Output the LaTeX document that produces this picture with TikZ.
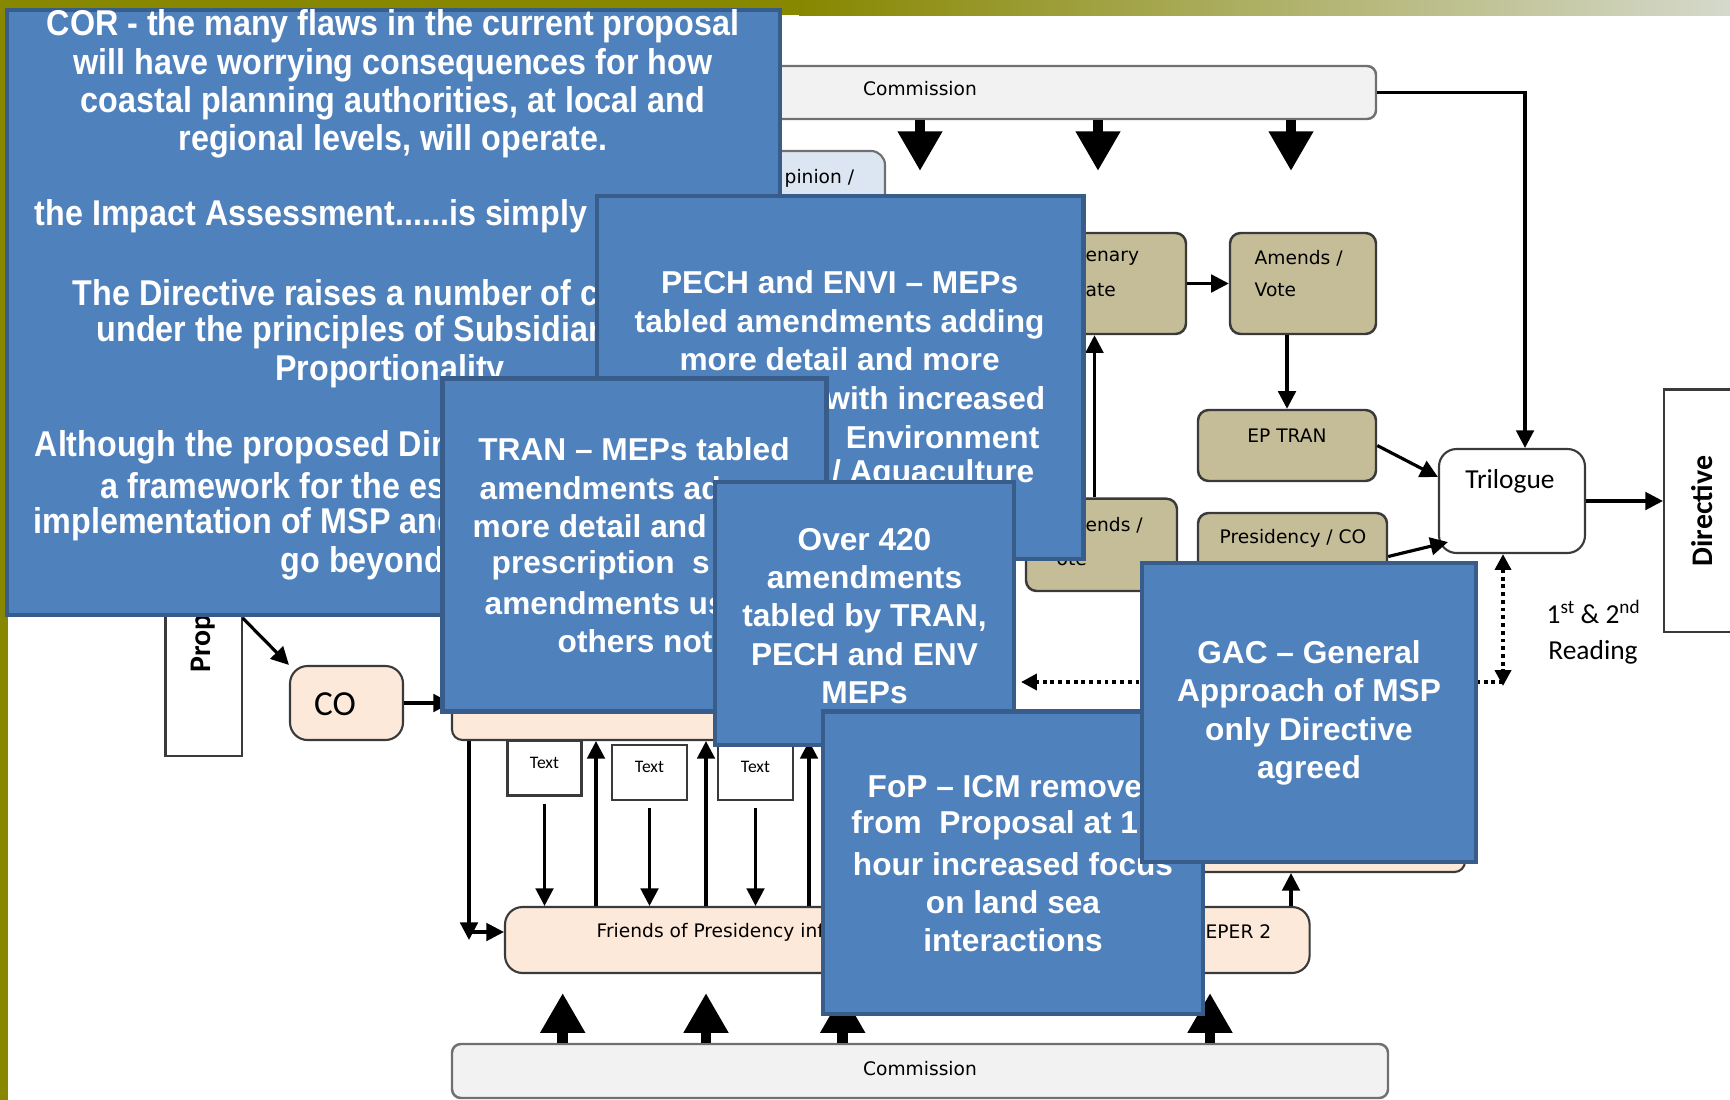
\documentclass[tikz,border=0pt]{standalone}
\usepackage{fontspec}
\setmainfont{Liberation Sans}
\newfontfamily\corfont[FakeStretch=0.9]{Liberation Sans}
\newfontfamily\labfont{DejaVu Sans}
\newfontfamily\calfont{Carlito}
\usetikzlibrary{arrows.meta, fit, positioning}

\definecolor{noteblue}{HTML}{4F81BD}
\definecolor{noteedge}{HTML}{385D8A}
\definecolor{tanfill}{HTML}{C4BD97}
\definecolor{peachfill}{HTML}{FDE9D9}
\definecolor{barfill}{HTML}{F2F2F2}
\definecolor{baredge}{HTML}{707070}
\definecolor{opinfill}{HTML}{DCE6F2}
\definecolor{boxedge}{HTML}{3A3A3A}
\definecolor{barolive}{HTML}{878700}
\definecolor{barlight}{HTML}{D5D9CC}

\tikzset{
  note/.style={draw=noteedge, fill=noteblue, line width=1.2pt, inner sep=0pt},
  notetext/.style={text=white, font=\bfseries\fontsize{9}{10.9}\selectfont, inner sep=0pt, align=center},
  cortext/.style={text=white, font=\corfont\bfseries\fontsize{10.2}{10.9}\selectfont, inner sep=0pt, align=center},
  tanbox/.style={draw=boxedge, fill=tanfill, line width=0.7pt, rounded corners=3pt, inner sep=0pt},
  peachbox/.style={draw=boxedge, fill=peachfill, line width=0.6pt, rounded corners=3pt, inner sep=0pt},
  barbox/.style={draw=baredge, fill=barfill, line width=0.7pt, rounded corners=2.5pt, inner sep=0pt},
  opinbox/.style={draw=baredge, fill=opinfill, line width=0.6pt, rounded corners=4pt, inner sep=0pt},
  plainbox/.style={draw=boxedge, fill=white, line width=0.6pt, inner sep=0pt},
  lbl/.style={font=\labfont\fontsize{5.3}{6}\selectfont, inner sep=0pt},
  calbl/.style={font=\calfont\fontsize{7.8}{9}\selectfont, inner sep=0pt},
  conn/.style={line width=0.9pt, -{Triangle[length=5pt,width=5pt]}},
  bigarrow/.style={line width=3.1pt, -{Triangle[length=11.3pt,width=12pt]}},
  dotline/.style={line width=1.1pt, dash pattern=on 1.1pt off 1.1pt},
}

\begin{document}
\begin{tikzpicture}[x=0.01cm, y=-0.01cm]
\useasboundingbox (0,0) rectangle (1730,1100);
\fill[white] (0,0) rectangle (1730,1100);

% slide frame
\fill[barolive] (0,0) rectangle (800,15);
\shade[left color=barolive, right color=barlight] (799,0) rectangle (1730,15);
\fill[barolive] (0,0) rectangle (8,1100);

% Parliament side
\node[barbox, fit={(470,66) (1376,119)}] (comtop) {};
\node[lbl] (comtoptxt) at (920,89) {Commission};
\foreach \ax [count=\i] in {920,1098,1291} {
  \coordinate (down\i) at (\ax,171);
  \draw[bigarrow] (comtop.south -| down\i) -- (down\i);
}
\node[opinbox, fit={(700,151) (885,240)}] (opinion) {};
\node[lbl, anchor=west] (opiniontxt) at (784,178) {pinion /};

\node[tanbox, fit={(1040,233) (1186,334)}] (plenary) {};
\node[lbl, anchor=west] (plenarytxt1) at (1085,258) {enary};
\node[lbl, anchor=west] (plenarytxt2) at (1085,290) {ate};
\node[tanbox, fit={(1230,233) (1376,334)}] (amends1) {};
\node[lbl, anchor=west] (amends1txt1) at (1254,258) {Amends /};
\node[lbl, anchor=west] (amends1txt2) at (1254,290) {Vote};
\node[tanbox, fit={(1198,410) (1376,481)}] (eptran) {};
\node[lbl] (eptrantxt) at (1287,436) {EP TRAN};
\node[tanbox, fit={(1026,498.7) (1177,591)}] (amends2) {};
\node[lbl, anchor=west] (amends2txt1) at (1085,525) {ends /};
\node[lbl, anchor=west] (amends2txt2) at (1056,559) {ote};
\node[tanbox, fit={(1198,513) (1387,600)}] (presco) {};
\node[lbl] (prescotxt) at (1293,538) {Presidency / CO};

\draw[conn] (plenary.east) -- (amends1.west);
\draw[conn] (amends1.south -| eptran.north) -- (eptran.north);
\coordinate (riser) at (1094.5,400);
\draw[conn] (amends2.north -| riser) -- (plenary.south -| riser);

% Trilogue and result
\node[plainbox, rounded corners=5pt, fit={(1439,449) (1585,553)}] (trilogue) {};
\node[calbl] (trilogtxt) at (1510,481) {Trilogue};
\node[plainbox, fit={(1664,389.5) (1760,632)}] (directive) {};
\node[font=\calfont\bfseries\fontsize{8.5}{9}\selectfont, rotate=90, inner sep=0pt] (directivetxt) at (1702,511) {Directive};
\node[calbl] (readtxt1) at (1594,612) {1\textsuperscript{st}\,\& 2\textsuperscript{nd}};
\node[calbl] (readtxt2) at (1593,652) {Reading};

\draw[conn] (comtop.east) -| ([xshift=0.13cm]trilogue.north);
\draw[conn] (eptran.east) -- ([yshift=0.24cm]trilogue.west);
\draw[conn] (presco.east) -- ([xshift=0.1cm,yshift=0.12cm]trilogue.south west);
\draw[conn] (trilogue.east) -- (trilogue.east -| directive.west);
\coordinate (dotbottom) at (1503,686);
\coordinate (dotleft) at (1021,682);
\draw[dotline, {Triangle[length=4.5pt,width=4.5pt]}-{Triangle[length=4.5pt,width=4.5pt]}] (trilogue.south -| dotbottom) -- (dotbottom);
\draw[dotline, -{Triangle[length=4.5pt,width=4.5pt]}] (dotbottom |- dotleft) -- (dotleft);

% Council side
\node[plainbox, fit={(165.5,400) (241.6,756)}] (proposal) {};
\node[font=\calfont\bfseries\fontsize{8.5}{9}\selectfont, rotate=90, anchor=west, inner sep=0pt] (proptxt) at (203,673) {Prop};
\node[peachbox, rounded corners=5pt, fit={(290,666) (403,740)}] (co) {};
\node[font=\calfont\fontsize{10}{12}\selectfont, inner sep=0pt] (cotxt) at (335,704) {CO};
\coordinate (propout) at (241.6,618);
\draw[conn] (proposal.east |- propout) -- (co.north west);
\node[peachbox, fit={(452,600) (830,740)}] (committees) {};
\draw[conn] (co.east) -- (co.east -| committees.west);

\node[peachbox, rounded corners=5pt, fit={(505,907) (1150,973)}] (friends) {};
\node[lbl, anchor=west] (friendstxt) at (596,932) {Friends of Presidency inf};
\node[peachbox, rounded corners=5pt, fit={(1150,907) (1309.6,973)}] (coreper) {};
\node[lbl, anchor=west] (corepertxt) at (1205,932) {EPER 2};
\node[peachbox, fit={(1150,700) (1465,872)}] (council) {};
\coordinate (upcol) at (1291,800);
\draw[conn] (coreper.north -| upcol) -- (council.south -| upcol);

\node[plainbox, fit={(507.5,741) (581.5,795.5)}, font=\calfont\fontsize{5}{6}\selectfont] (text1) {Text};
\node[plainbox, fit={(612,745) (687,800)}, font=\calfont\fontsize{5}{6}\selectfont] (text2) {Text};
\node[plainbox, fit={(718,745) (793,800)}, font=\calfont\fontsize{5}{6}\selectfont] (text3) {Text};
\draw[conn, shorten <=2pt] (text1.south) -- (text1.south |- friends.north);
\draw[conn, shorten <=2pt] (text2.south) -- (text2.south |- friends.north);
\draw[conn, shorten <=2pt] (text3.south) -- (text3.south |- friends.north);
\foreach \ux [count=\k] in {596,706,809} {
  \coordinate (riseup\k) at (\ux,800);
  \draw[conn] (friends.north -| riseup\k) -- (committees.south -| riseup\k);
}
\coordinate (loopdown) at (469,940);
\coordinate (loopturn) at (469,932);
\draw[conn] (committees.south -| loopdown) -- (loopdown);
\draw[conn] (loopturn) -- (loopturn -| friends.west);

\node[barbox, fit={(452,1044) (1388,1098)}] (combot) {};
\node[lbl] (combottxt) at (920,1069) {Commission};
\foreach \ax [count=\i] in {562.7,706,842.7,1210} {
  \coordinate (up\i) at (\ax,993);
  \draw[bigarrow] (combot.north -| up\i) -- (up\i);
}

% comment boxes laid over the chart
\node[note, fit={(7,10) (780,615)}] (cor) {};
\node[cortext] (cortxt1) at (393,84) {COR - the many flaws in the current proposal\\will have worrying consequences for how\\coastal planning authorities, at local and\\regional levels, will operate.};
\node[cortext, anchor=west] (cortxt2) at (34,216) {the Impact Assessment......is simply i};
\node[cortext, anchor=west] (cortxt3) at (72,293) {The Directive raises a number of c};
\node[cortext, anchor=west] (cortxt4) at (96,332) {under the principles of Subsidiari};
\node[cortext] (cortxt5) at (390,371) {Proportionality};
\node[cortext, anchor=west] (cortxt6) at (34,447) {Although the proposed Dir};
\node[cortext, anchor=west] (cortxt7) at (100,486) {a framework for the es};
\node[cortext, anchor=west] (cortxt8) at (33,524) {implementation of MSP and};
\node[cortext, anchor=west] (cortxt9) at (280,563) {go beyond};

\node[note, fit={(597,196) (1083.5,559)}] (pech) {};
\node[notetext] (pechtxt1) at (839.6,321) {PECH and ENVI – MEPs\\tabled amendments adding\\more detail and more};
\node[notetext, anchor=east] (pechtxt2) at (1046,398) {with increased};
\node[notetext, anchor=east] (pechtxt3) at (1040,437) {Environment};
\node[notetext, anchor=east] (pechtxt4) at (1035,474.5) {/ Aquaculture};

\node[note, fit={(442.4,378.4) (826.4,711.6)}] (tran) {};
\node[notetext] (trantxt1) at (634,449) {TRAN – MEPs tabled};
\node[notetext, anchor=west] (trantxt2) at (479,487.7) {amendments ad};
\node[notetext, anchor=west] (trantxt3) at (472,526) {more detail and};
\node[notetext, anchor=west] (trantxt4) at (491,565) {prescription\ \ s};
\node[notetext, anchor=west] (trantxt5) at (484,603.5) {amendments us};
\node[notetext, anchor=west] (trantxt6) at (557,641) {others not};

\node[note, fit={(715,482) (1014,745)}] (over) {};
\node[notetext] (overtxt) at (864.5,615.8) {Over 420\\amendments\\tabled by TRAN,\\PECH and ENV\\MEPs};

\node[note, fit={(823,711.6) (1202.6,1014)}] (fop) {};
\node[notetext, anchor=west] (foptxt1) at (867,786.7) {FoP – ICM remove};
\node[notetext, anchor=west] (foptxt2) at (850.7,825) {from\ \ Proposal at 1};
\node[notetext] (foptxt3) at (1013,902.2) {hour increased focus\\on land sea\\interactions};

\node[note, fit={(1142,562.7) (1476,861.7)}] (gac) {};
\node[notetext] (gactxt) at (1309,713) {GAC – General\\Approach of MSP\\only Directive\\agreed};
\end{tikzpicture}
\end{document}
